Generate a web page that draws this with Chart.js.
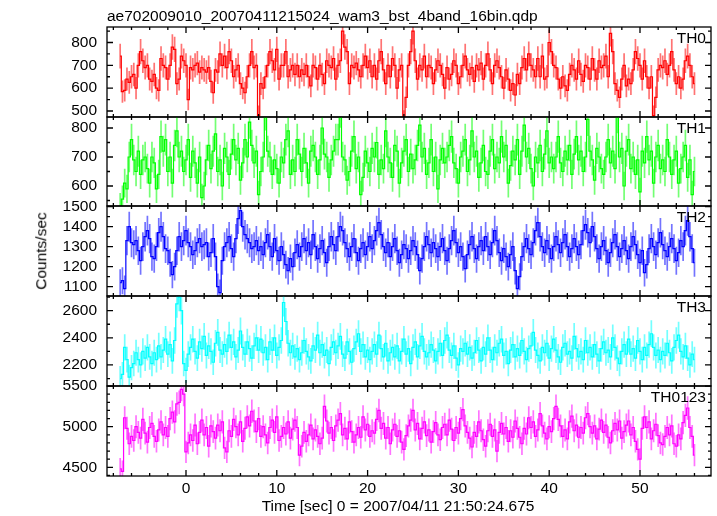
<!DOCTYPE html>
<html><head><meta charset="utf-8">
<script src="https://cdn.jsdelivr.net/npm/chart.js@4.4.1/dist/chart.umd.min.js"></script>
<style>
html,body{margin:0;padding:0;background:#fff;}
#wrap{position:relative;width:717px;height:516px;overflow:hidden;background:#fff;font-family:"Liberation Sans",Arial,sans-serif;}
canvas{position:absolute;left:0;}
.txt{position:absolute;white-space:nowrap;color:#000;font-size:15.5px;line-height:1;z-index:5;}
</style></head><body>
<div id="wrap">
<div class="txt" style="left:107px;top:8px;">ae702009010_20070411215024_wam3_bst_4band_16bin.qdp</div>
<div class="txt" style="left:41px;top:251px;transform:translate(-50%,-50%) rotate(-90deg);">Counts/sec</div>
<div class="txt" style="left:398px;top:498px;transform:translateX(-50%);">Time [sec] 0 = 2007/04/11 21:50:24.675</div>
</div>
<script>
// ---- data (counts/sec, 0.25 s bins starting at t = -7.25 s) ----
const TIME_START = -7.25;
const BIN_SEC = 0.25;
const X_TICKS = [0, 10, 20, 30, 40, 50];

const TH0 = [
740,585,590,640,625,650,660,600,700,760,720,690,700,640,630,660,
600,590,730,700,690,640,700,780,770,620,640,740,720,700,550,690,
680,700,710,670,690,680,670,690,630,580,680,670,750,700,740,690,
760,720,650,680,700,620,600,580,650,700,760,690,700,480,620,600,
650,700,760,720,680,770,640,700,700,760,650,680,700,660,700,650,
680,660,700,650,610,700,690,640,700,660,620,720,700,690,730,640,
700,720,850,780,760,620,700,690,710,680,650,700,740,690,720,650,
700,640,720,760,680,620,700,650,730,700,600,680,700,460,560,700,
760,850,720,640,700,680,740,650,700,690,620,680,720,700,660,600,
690,640,660,720,700,620,650,700,740,680,660,690,630,700,680,710,
640,700,750,680,620,700,720,690,650,600,680,640,590,620,570,660,
620,690,730,680,750,700,680,650,730,650,740,640,650,800,760,700,
690,640,600,650,610,590,660,700,680,640,720,660,630,700,690,640,
730,680,640,720,690,700,740,650,840,760,620,590,560,640,700,610,
640,620,680,760,730,700,640,720,650,600,650,480,560,680,700,690,
720,660,700,760,680,620,650,600,640,720,740,700,650,620];
const TH1 = [
530,555,610,590,700,760,690,650,720,640,690,700,660,610,700,680,
590,640,770,720,760,650,700,610,740,790,700,720,650,690,760,630,
720,680,610,700,560,600,690,740,660,720,780,650,690,600,730,700,
640,710,760,690,730,620,680,760,700,820,740,680,720,570,650,700,
850,720,700,640,690,660,610,700,680,760,790,640,690,650,760,710,
650,730,680,610,720,740,700,640,690,800,710,700,630,690,720,760,
760,860,700,690,620,650,720,770,660,700,570,630,720,680,650,730,
700,750,640,690,660,790,700,680,630,740,720,610,680,720,760,650,
710,660,690,740,810,700,730,640,680,760,650,700,590,690,730,680,
700,740,770,680,660,610,700,720,760,650,690,790,700,720,630,680,
740,650,640,720,760,660,700,680,770,700,740,610,670,720,690,760,
640,720,810,700,730,660,600,700,680,740,650,710,790,680,700,660,
700,770,680,650,720,690,740,640,710,770,690,720,650,700,830,720,
690,620,730,700,660,640,700,760,680,720,660,840,700,730,600,720,
760,660,700,640,690,580,720,680,770,690,720,610,700,740,660,690,
650,760,700,640,690,720,610,660,700,740,630,690,570,650];
const TH2 = [
1120,1130,1090,1330,1400,1320,1310,1330,1280,1230,1300,1350,1380,1340,1250,1240,
1300,1370,1400,1350,1290,1280,1220,1160,1200,1280,1350,1300,1330,1380,1320,1300,
1260,1280,1320,1340,1300,1310,1320,1250,1270,1340,1250,1100,1070,1230,1300,1320,
1350,1290,1250,1340,1440,1480,1400,1360,1340,1320,1290,1300,1330,1280,1300,1260,
1320,1360,1300,1250,1340,1280,1230,1300,1260,1210,1180,1240,1200,1270,1310,1250,
1300,1340,1280,1320,1260,1360,1300,1240,1290,1330,1270,1220,1300,1350,1310,1280,
1350,1400,1380,1320,1290,1250,1300,1340,1270,1230,1290,1320,1260,1300,1350,1290,
1330,1380,1420,1360,1300,1270,1320,1250,1300,1340,1280,1220,1260,1310,1290,1240,
1280,1330,1300,1260,1180,1240,1300,1350,1310,1270,1320,1290,1250,1300,1340,1280,
1230,1290,1330,1380,1320,1270,1300,1250,1190,1260,1310,1350,1290,1240,1300,1330,
1280,1350,1300,1260,1320,1380,1330,1270,1230,1290,1250,1200,1260,1300,1180,1090,
1150,1250,1300,1340,1290,1260,1320,1380,1420,1350,1300,1270,1330,1290,1240,1300,
1350,1310,1270,1320,1360,1300,1250,1290,1340,1300,1260,1310,1380,1410,1370,1320,
1400,1350,1290,1240,1300,1330,1280,1220,1270,1320,1360,1300,1250,1290,1330,1280,
1240,1300,1350,1310,1260,1220,1280,1170,1210,1290,1340,1300,1260,1320,1370,1310,
1280,1250,1300,1340,1290,1230,1270,1330,1300,1380,1430,1350,1290,1220];
const TH3 = [
2100,2130,2330,2240,2110,2180,2210,2290,2240,2200,2300,2250,2330,2260,2210,2290,
2240,2340,2260,2310,2390,2280,2350,2230,2380,2650,2700,2600,2210,2160,2280,2330,
2390,2300,2250,2370,2320,2410,2270,2340,2300,2220,2360,2440,2310,2280,2350,2300,
2420,2330,2370,2260,2310,2450,2330,2280,2370,2320,2250,2340,2400,2310,2390,2290,
2330,2240,2370,2310,2400,2270,2330,2380,2660,2520,2360,2290,2340,2260,2320,2240,
2290,2380,2300,2260,2230,2340,2310,2420,2290,2350,2270,2310,2210,2330,2370,2290,
2340,2410,2280,2250,2370,2300,2220,2320,2370,2430,2300,2350,2260,2310,2240,2300,
2350,2280,2420,2320,2260,2360,2230,2290,2330,2260,2340,2230,2300,2390,2280,2320,
2210,2330,2370,2260,2340,2410,2300,2260,2290,2350,2310,2230,2300,2360,2270,2380,
2420,2310,2270,2340,2250,2200,2320,2300,2360,2280,2330,2250,2290,2380,2310,2230,
2330,2280,2400,2310,2240,2330,2290,2360,2390,2270,2300,2210,2310,2350,2260,2320,
2270,2380,2300,2240,2320,2340,2440,2310,2270,2230,2330,2290,2360,2250,2320,2390,
2310,2260,2220,2330,2360,2280,2300,2250,2410,2320,2260,2300,2240,2380,2290,2330,
2260,2350,2280,2230,2320,2370,2290,2310,2260,2400,2330,2250,2210,2300,2350,2280,
2390,2280,2320,2250,2380,2300,2240,2330,2270,2350,2430,2330,2270,2310,2240,2300,
2270,2360,2290,2230,2330,2380,2420,2300,2260,2340,2250,2200,2280,2240];
const TH0123 = [
4480,4450,5110,4980,4790,4880,4830,5000,4930,4860,5090,4920,4810,4990,5040,4880,
4820,4960,5060,4900,4990,4880,5100,5180,5060,5280,5300,5460,5400,4690,4800,4900,
4830,5020,4790,4930,5080,4900,4990,4760,5010,4940,4860,5020,4950,5060,4740,4690,
4950,4880,5090,5000,4900,5060,4820,4980,5120,5010,5190,5070,4940,5100,4880,5000,
4900,4800,4990,5080,4930,5120,4830,4880,4990,4910,5060,4860,4970,5080,4990,4650,
4760,4930,4820,4900,5020,4850,4960,4880,4790,4860,5250,5070,4920,4990,4830,5010,
5080,5160,4900,4980,4850,5060,4940,4810,4900,4990,4870,5120,4960,5030,4880,4950,
4920,5090,5200,4980,5040,4860,4990,4790,4960,5030,4880,4950,4810,4720,4890,5010,
5080,5200,4960,5040,4850,4980,5060,4890,4960,4810,4940,5050,4900,4840,4990,5030,
4900,5080,4970,4830,4990,4920,5100,5210,5010,4930,4860,4750,4930,4880,5060,4950,
4840,4760,4950,5030,4880,4960,4700,4930,5040,4910,4990,4820,4950,4870,5070,4980,
4870,4790,4980,4910,5110,4990,5060,4880,4960,5160,5010,4920,4850,5000,4940,5100,
5250,5090,5010,4880,4960,4850,5060,5130,4950,5020,4870,4990,4920,5110,5160,5000,
4920,5010,4850,4970,5080,4930,5020,4870,4800,4950,5040,4960,5070,4860,4940,5020,
5070,4900,4990,4820,4720,4600,4980,5120,4990,5060,4850,4950,5030,4890,4800,4780,
4880,4990,4900,5010,4790,4760,4900,4850,5050,5140,5230,4990,4880,4650];

const TH0_TICKS = [500, 600, 700, 800];
const TH1_TICKS = [600, 700, 800];
const TH2_TICKS = [1100, 1200, 1300, 1400, 1500];
const TH3_TICKS = [2200, 2400, 2600];
const TH0123_TICKS = [4500, 5000, 5500];
const PANEL_NAMES = ['TH0', 'TH1', 'TH2', 'TH3', 'TH0123'];

// ---- layout / style ----
const X_MIN = -8.70, X_MAX = 57.82;
const FONT = {family: '"Liberation Sans", Arial, sans-serif', size: 15.5};
const panels = [
  {values: TH0, ticks: TH0_TICKS, rgb: '255,0,0', yMin: 473.7, yMax: 867.9, yMajor: 100, yMinor: 50, top: 27, h: 90},
  {values: TH1, ticks: TH1_TICKS, rgb: '0,255,0', yMin: 531, yMax: 838, yMajor: 100, yMinor: 50, top: 117, h: 89},
  {values: TH2, ticks: TH2_TICKS, rgb: '0,0,255', yMin: 1053.5, yMax: 1503.5, yMajor: 100, yMinor: 50, top: 206, h: 90},
  {values: TH3, ticks: TH3_TICKS, rgb: '0,255,255', yMin: 2045, yMax: 2708, yMajor: 200, yMinor: 100, top: 296, h: 90},
  {values: TH0123, ticks: TH0123_TICKS, rgb: '255,0,255', yMin: 4393, yMax: 5501, yMajor: 500, yMinor: 100, top: 386, h: 90}
];
const PAD = 10;
const wrap = document.getElementById('wrap');

panels.forEach((p, idx) => {
  const last = idx === panels.length - 1;
  const cv = document.createElement('canvas');
  const cTop = p.top - PAD;
  const cH = last ? (516 - cTop) : (p.h + 2 * PAD);
  cv.width = 717; cv.height = cH;
  cv.style.top = cTop + 'px';
  cv.style.width = '717px'; cv.style.height = cH + 'px';
  wrap.appendChild(cv);

  const lab = document.createElement('div');
  lab.className = 'txt';
  lab.textContent = PANEL_NAMES[idx];
  lab.style.right = (717 - 706) + 'px';
  lab.style.top = (p.top + 3) + 'px';
  wrap.appendChild(lab);

  const points = p.values.map((v, i) => ({x: TIME_START + i * BIN_SEC, y: v}));

  const errPlugin = {
    id: 'errbars',
    beforeDatasetsDraw(chart) {
      const {ctx, chartArea: a} = chart;
      const xs = chart.scales.x, ys = chart.scales.y;
      ctx.save();
      ctx.beginPath();
      ctx.rect(a.left, a.top, a.right - a.left, a.bottom - a.top);
      ctx.clip();
      ctx.strokeStyle = 'rgba(' + p.rgb + ',0.55)';
      ctx.lineWidth = 1.7;
      ctx.beginPath();
      chart.data.datasets[0].data.forEach(pt => {
        const e = Math.sqrt(pt.y / BIN_SEC);
        const px = xs.getPixelForValue(pt.x);
        ctx.moveTo(px, ys.getPixelForValue(pt.y - e));
        ctx.lineTo(px, ys.getPixelForValue(pt.y + e));
      });
      ctx.stroke();
      ctx.restore();
    }
  };

  const framePlugin = {
    id: 'frame',
    afterDatasetsDraw(chart) {
      const {ctx, chartArea: a} = chart;
      const xs = chart.scales.x, ys = chart.scales.y;
      ctx.save();
      ctx.strokeStyle = '#000';
      ctx.lineWidth = 1.3;
      ctx.strokeRect(a.left, a.top, a.right - a.left, a.bottom - a.top);
      ctx.beginPath();
      const y0 = Math.ceil(p.yMin / p.yMinor) * p.yMinor;
      for (let v = y0; v <= p.yMax; v += p.yMinor) {
        const py = ys.getPixelForValue(v);
        const len = (v % p.yMajor === 0) ? 6 : 3;
        ctx.moveTo(a.left, py); ctx.lineTo(a.left + len, py);
        ctx.moveTo(a.right, py); ctx.lineTo(a.right - len, py);
      }
      for (let v = -8; v <= X_MAX; v += 2) {
        const px = xs.getPixelForValue(v);
        const len = (v % 10 === 0) ? 6 : 3;
        ctx.moveTo(px, a.top); ctx.lineTo(px, a.top + len);
        ctx.moveTo(px, a.bottom); ctx.lineTo(px, a.bottom - len);
      }
      ctx.stroke();
      ctx.restore();
    }
  };

  const xScale = {
    type: 'linear', min: X_MIN, max: X_MAX,
    display: last,
    grid: {display: false, drawTicks: false},
    border: {display: false},
    afterBuildTicks: s => { s.ticks = X_TICKS.map(v => ({value: v})); },
    afterFit: s => {
      s.paddingLeft = 0; s.paddingRight = 0;
      if (last) s.height = 516 - (p.top + p.h);
    },
    ticks: {font: FONT, color: '#000', padding: 3, maxRotation: 0, autoSkip: false,
            callback: v => String(v)}
  };

  new Chart(cv, {
    type: 'line',
    data: {datasets: [{
      data: points,
      borderColor: 'rgb(' + p.rgb + ')',
      borderWidth: 1.2,
      stepped: 'middle',
      pointRadius: 0,
      fill: false,
      clip: 0
    }]},
    options: {
      responsive: false,
      animation: false,
      devicePixelRatio: 1,
      layout: {padding: {left: 0, right: 6, top: PAD, bottom: last ? 0 : PAD}},
      plugins: {legend: {display: false}, tooltip: {enabled: false}, title: {display: false}},
      scales: {
        x: xScale,
        y: {
          type: 'linear', min: p.yMin, max: p.yMax,
          grid: {display: false, drawTicks: false},
          border: {display: false},
          afterBuildTicks: s => { s.ticks = p.ticks.map(v => ({value: v})); },
          afterFit: s => { s.width = 107; s.paddingTop = 0; s.paddingBottom = 0; },
          ticks: {font: FONT, color: '#000', padding: 10, autoSkip: false,
                  callback: v => String(v)}
        }
      }
    },
    plugins: [errPlugin, framePlugin]
  });
});
</script>
</body></html>
